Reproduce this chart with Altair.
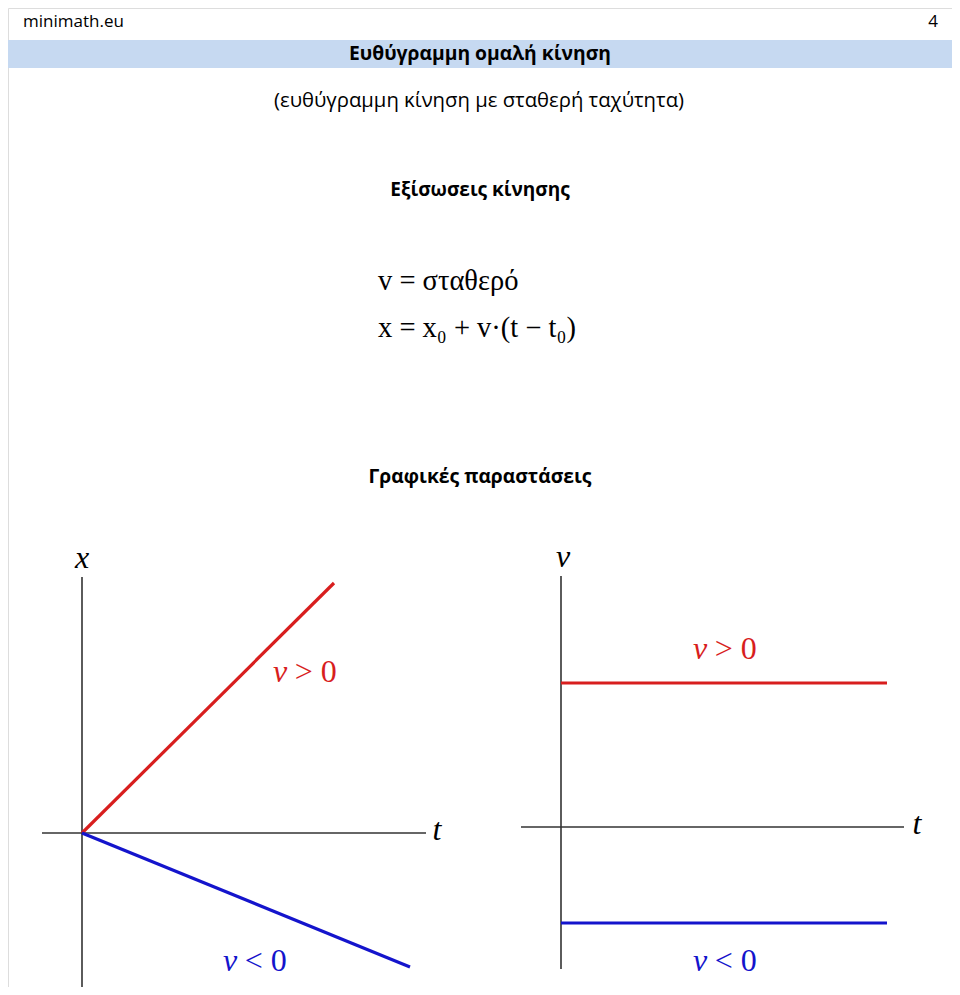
import altair as alt
import pandas as pd

# ---------------- text content ----------------
site = "minimath.eu"
page_no = "4"
title = "Ευθύγραμμη ομαλή κίνηση"
subtitle = "(ευθύγραμμη κίνηση με σταθερή ταχύτητα)"
eq_heading = "Εξίσωσεις κίνησης"
eq1 = "v = σταθερό"
eq2 = "x = x₀ + v·(t − t₀)"
graphs_heading = "Γραφικές παραστάσεις"

# ---------------- left graph: x – t ----------------
xt_t_axis = [-1.0, 8.6]          # horizontal axis extent (t)
xt_x_axis = [-4.0, 6.4]          # vertical axis extent (x)
xt_red_t = [0.0, 6.3]            # v > 0
xt_red_x = [0.0, 6.25]
xt_blue_t = [0.0, 8.2]           # v < 0
xt_blue_x = [0.0, -3.35]
xt_lbl_t = [0.0, 8.875]          # axis names
xt_lbl_x = [6.625, -0.175]
xt_lbl_txt = ["x", "t"]
xt_pos_lbl = [4.775, 3.775]      # "v > 0" anchor (t, x)
xt_neg_lbl = [3.525, -3.45]      # "v < 0" anchor (t, x)

# ---------------- right graph: v – t ----------------
vt_t_axis = [-1.0, 8.575]
vt_v_axis = [-3.55, 6.275]
vt_red_t = [0.0, 8.15]
vt_red_v = [3.6, 3.6]
vt_blue_t = [0.0, 8.15]
vt_blue_v = [-2.4, -2.4]
vt_lbl_t = [0.05, 8.9]
vt_lbl_v = [6.5, -0.175]
vt_lbl_txt = ["v", "t"]
vt_pos_lbl = [3.3, 4.2]
vt_neg_lbl = [3.3, -3.6]

W, H = 944, 979
RED = "#d81e1e"
BLUE = "#1414cc"
AXC = "#333333"
SANS = "Open Sans"
SERIF = "Liberation Serif"


def panel(dom_x, rng_x, dom_y, rng_y, t_axis, y_axis, red_t, red_y, blue_t, blue_y,
          lbl_t, lbl_y, lbl_txt, pos_lbl, neg_lbl):
    sx = alt.Scale(domain=dom_x, range=rng_x, nice=False, zero=False)
    sy = alt.Scale(domain=dom_y, range=rng_y, nice=False, zero=False)
    X = lambda f: alt.X(f, type="quantitative", scale=sx, axis=None)
    Y = lambda f: alt.Y(f, type="quantitative", scale=sy, axis=None)
    X2 = lambda f: alt.X2(f)
    Y2 = lambda f: alt.Y2(f)

    axes_df = pd.DataFrame({
        "a": [t_axis[0], 0.0], "a2": [t_axis[1], 0.0],
        "b": [0.0, y_axis[0]], "b2": [0.0, y_axis[1]],
    })
    axes = alt.Chart(axes_df).mark_rule(color=AXC, strokeWidth=1.6).encode(
        x=X("a"), x2=X2("a2"), y=Y("b"), y2=Y2("b2"))

    seg_df = pd.DataFrame({
        "a": [red_t[0], blue_t[0]], "a2": [red_t[1], blue_t[1]],
        "b": [red_y[0], blue_y[0]], "b2": [red_y[1], blue_y[1]],
        "c": ["pos", "neg"],
    })
    segs = alt.Chart(seg_df).mark_rule(strokeWidth=3.2, strokeCap="butt").encode(
        x=X("a"), x2=X2("a2"), y=Y("b"), y2=Y2("b2"),
        color=alt.Color("c:N", scale=alt.Scale(domain=["pos", "neg"], range=[RED, BLUE]),
                        legend=None))

    lbl_df = pd.DataFrame({"a": lbl_t, "b": lbl_y, "s": lbl_txt})
    names = alt.Chart(lbl_df).mark_text(font=SERIF, fontSize=32, fontStyle="italic",
                                        color="#000000", align="center",
                                        baseline="alphabetic").encode(
        x=X("a"), y=Y("b"), text="s:N")

    sg_df = pd.DataFrame({"a": [pos_lbl[0], neg_lbl[0]], "b": [pos_lbl[1], neg_lbl[1]],
                          "v": ["v", "v"], "r": ["> 0", "< 0"], "c": ["pos", "neg"]})
    col = alt.Color("c:N", scale=alt.Scale(domain=["pos", "neg"], range=[RED, BLUE]),
                    legend=None)
    sign_v = alt.Chart(sg_df).mark_text(font=SERIF, fontSize=32, fontStyle="italic",
                                        align="left", baseline="alphabetic").encode(
        x=X("a"), y=Y("b"), text="v:N", color=col)
    sign_r = alt.Chart(sg_df).mark_text(font=SERIF, fontSize=32, align="left",
                                        baseline="alphabetic", dx=21.7).encode(
        x=X("a"), y=Y("b"), text="r:N", color=col)
    return alt.layer(axes, segs, names, sign_v, sign_r)


left = panel([-1.0, 8.6], [34, 418], [-4.0, 6.4], [985, 569],
             xt_t_axis, xt_x_axis, xt_red_t, xt_red_x, xt_blue_t, xt_blue_x,
             xt_lbl_t, xt_lbl_x, xt_lbl_txt, xt_pos_lbl, xt_neg_lbl)
right = panel([-1.0, 8.575], [513, 896], [-3.55, 6.275], [961, 568],
              vt_t_axis, vt_v_axis, vt_red_t, vt_red_v, vt_blue_t, vt_blue_v,
              vt_lbl_t, vt_lbl_v, vt_lbl_txt, vt_pos_lbl, vt_neg_lbl)

base = alt.Chart(pd.DataFrame({"k": [0]}))

bar = base.mark_rect(color="#c6d9f1").encode(
    x=alt.value(-5), x2=alt.value(950), y=alt.value(32), y2=alt.value(60))


def txt(s, x, y, size, weight="normal", align="center", font=SANS, baseline="middle"):
    return base.mark_text(font=font, fontSize=size, fontWeight=weight, align=align,
                          baseline=baseline, color="#000000").encode(
        x=alt.value(x), y=alt.value(y), text=alt.value(s))


header = [
    bar,
    txt(site, 15, 6, 17, align="left", baseline="top"),
    txt(page_no, 930, 6, 17, align="right", baseline="top"),
    txt(title, 472, 46, 19.3, weight="bold"),
    txt(subtitle, 471, 93, 20.3),
    txt(eq_heading, 472, 182, 19, weight="bold"),
    txt(eq1, 370, 282, 28.5, font=SERIF, align="left", baseline="alphabetic"),
    txt(eq2, 370, 329, 28.5, font=SERIF, align="left", baseline="alphabetic"),
    txt(graphs_heading, 472, 469, 19.3, weight="bold"),
]

chart = alt.layer(*header, left, right).resolve_scale(
    x="independent", y="independent", color="independent"
).properties(
    width=W, height=H, padding=0, autosize=alt.AutoSizeParams(type="none")
).configure_view(strokeWidth=0, stroke="transparent").configure(background="#ffffff")

chart.save("out.html", embed_options={"renderer": "svg", "actions": False})
